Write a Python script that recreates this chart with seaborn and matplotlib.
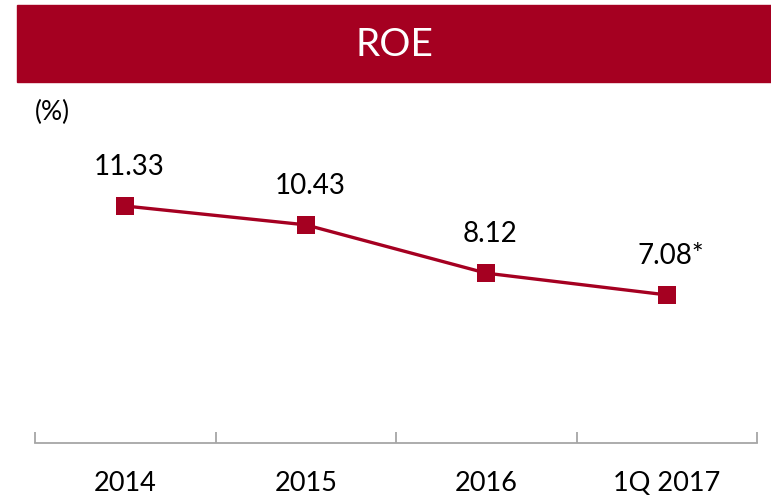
import matplotlib
matplotlib.use("Agg")
import matplotlib.pyplot as plt
import seaborn as sns
import pandas as pd
from matplotlib.patches import Rectangle

# Datos del gráfico
periods = ["2014", "2015", "2016", "1Q 2017"]
roe_values = [11.33, 10.43, 8.12, 7.08]
value_labels = ["11.33", "10.43", "8.12", "7.08*"]

RED = "#A50021"
GREY = "#A6A6A6"

sns.set_style("white")
plt.rcParams["font.family"] = ["Lato", "DejaVu Sans"]
plt.rcParams["text.color"] = "black"
plt.rcParams["xtick.color"] = "black"

df = pd.DataFrame({"x": range(len(periods)), "roe": roe_values})

fig = plt.figure(figsize=(7.71, 4.98), dpi=100)

# Banner del título
fig.patches.append(Rectangle((17 / 771, 1 - 82 / 498), 1 - 17 / 771, 77 / 498,
                             transform=fig.transFigure, color=RED, zorder=0))
fig.text((17 + 771) / 2 / 771, 1 - 45 / 498, "ROE", color="white",
         fontsize=28, ha="center", va="center")
fig.text(35 / 771, 1 - 112 / 498, "(%)", fontsize=19, ha="left", va="center")

ax = fig.add_axes([35 / 771, 1 - 443 / 498, (757 - 35) / 771, 0.63])
sns.lineplot(data=df, x="x", y="roe", ax=ax, color=RED, linewidth=2.4,
             marker="s", markersize=13, markeredgewidth=0)

ax.set_xlim(-0.5, len(periods) - 0.5)
ax.set_ylim(0, 15)

for i, (v, lab) in enumerate(zip(roe_values, value_labels)):
    ax.annotate(lab, (i, v), xytext=(3, 28), textcoords="offset points",
                ha="center", va="center", fontsize=20)

# Eje de categorías: marcas entre categorías
ax.set_xticks([i - 0.5 for i in range(len(periods) + 1)])
ax.set_xticklabels([])
ax.set_xticks(range(len(periods)), minor=True)
ax.set_xticklabels(periods, minor=True, fontsize=19.5)
ax.tick_params(axis="x", which="major", bottom=True, direction="in",
               length=8, width=1.3, color=GREY)
ax.tick_params(axis="x", which="minor", bottom=True, length=0, pad=20,
               labelcolor="black")

ax.set_yticks([])
ax.set_xlabel("")
ax.set_ylabel("")
for side in ["top", "right", "left"]:
    ax.spines[side].set_visible(False)
ax.spines["bottom"].set_color(GREY)
ax.spines["bottom"].set_linewidth(1.3)

fig.savefig("out.png", dpi=100)
